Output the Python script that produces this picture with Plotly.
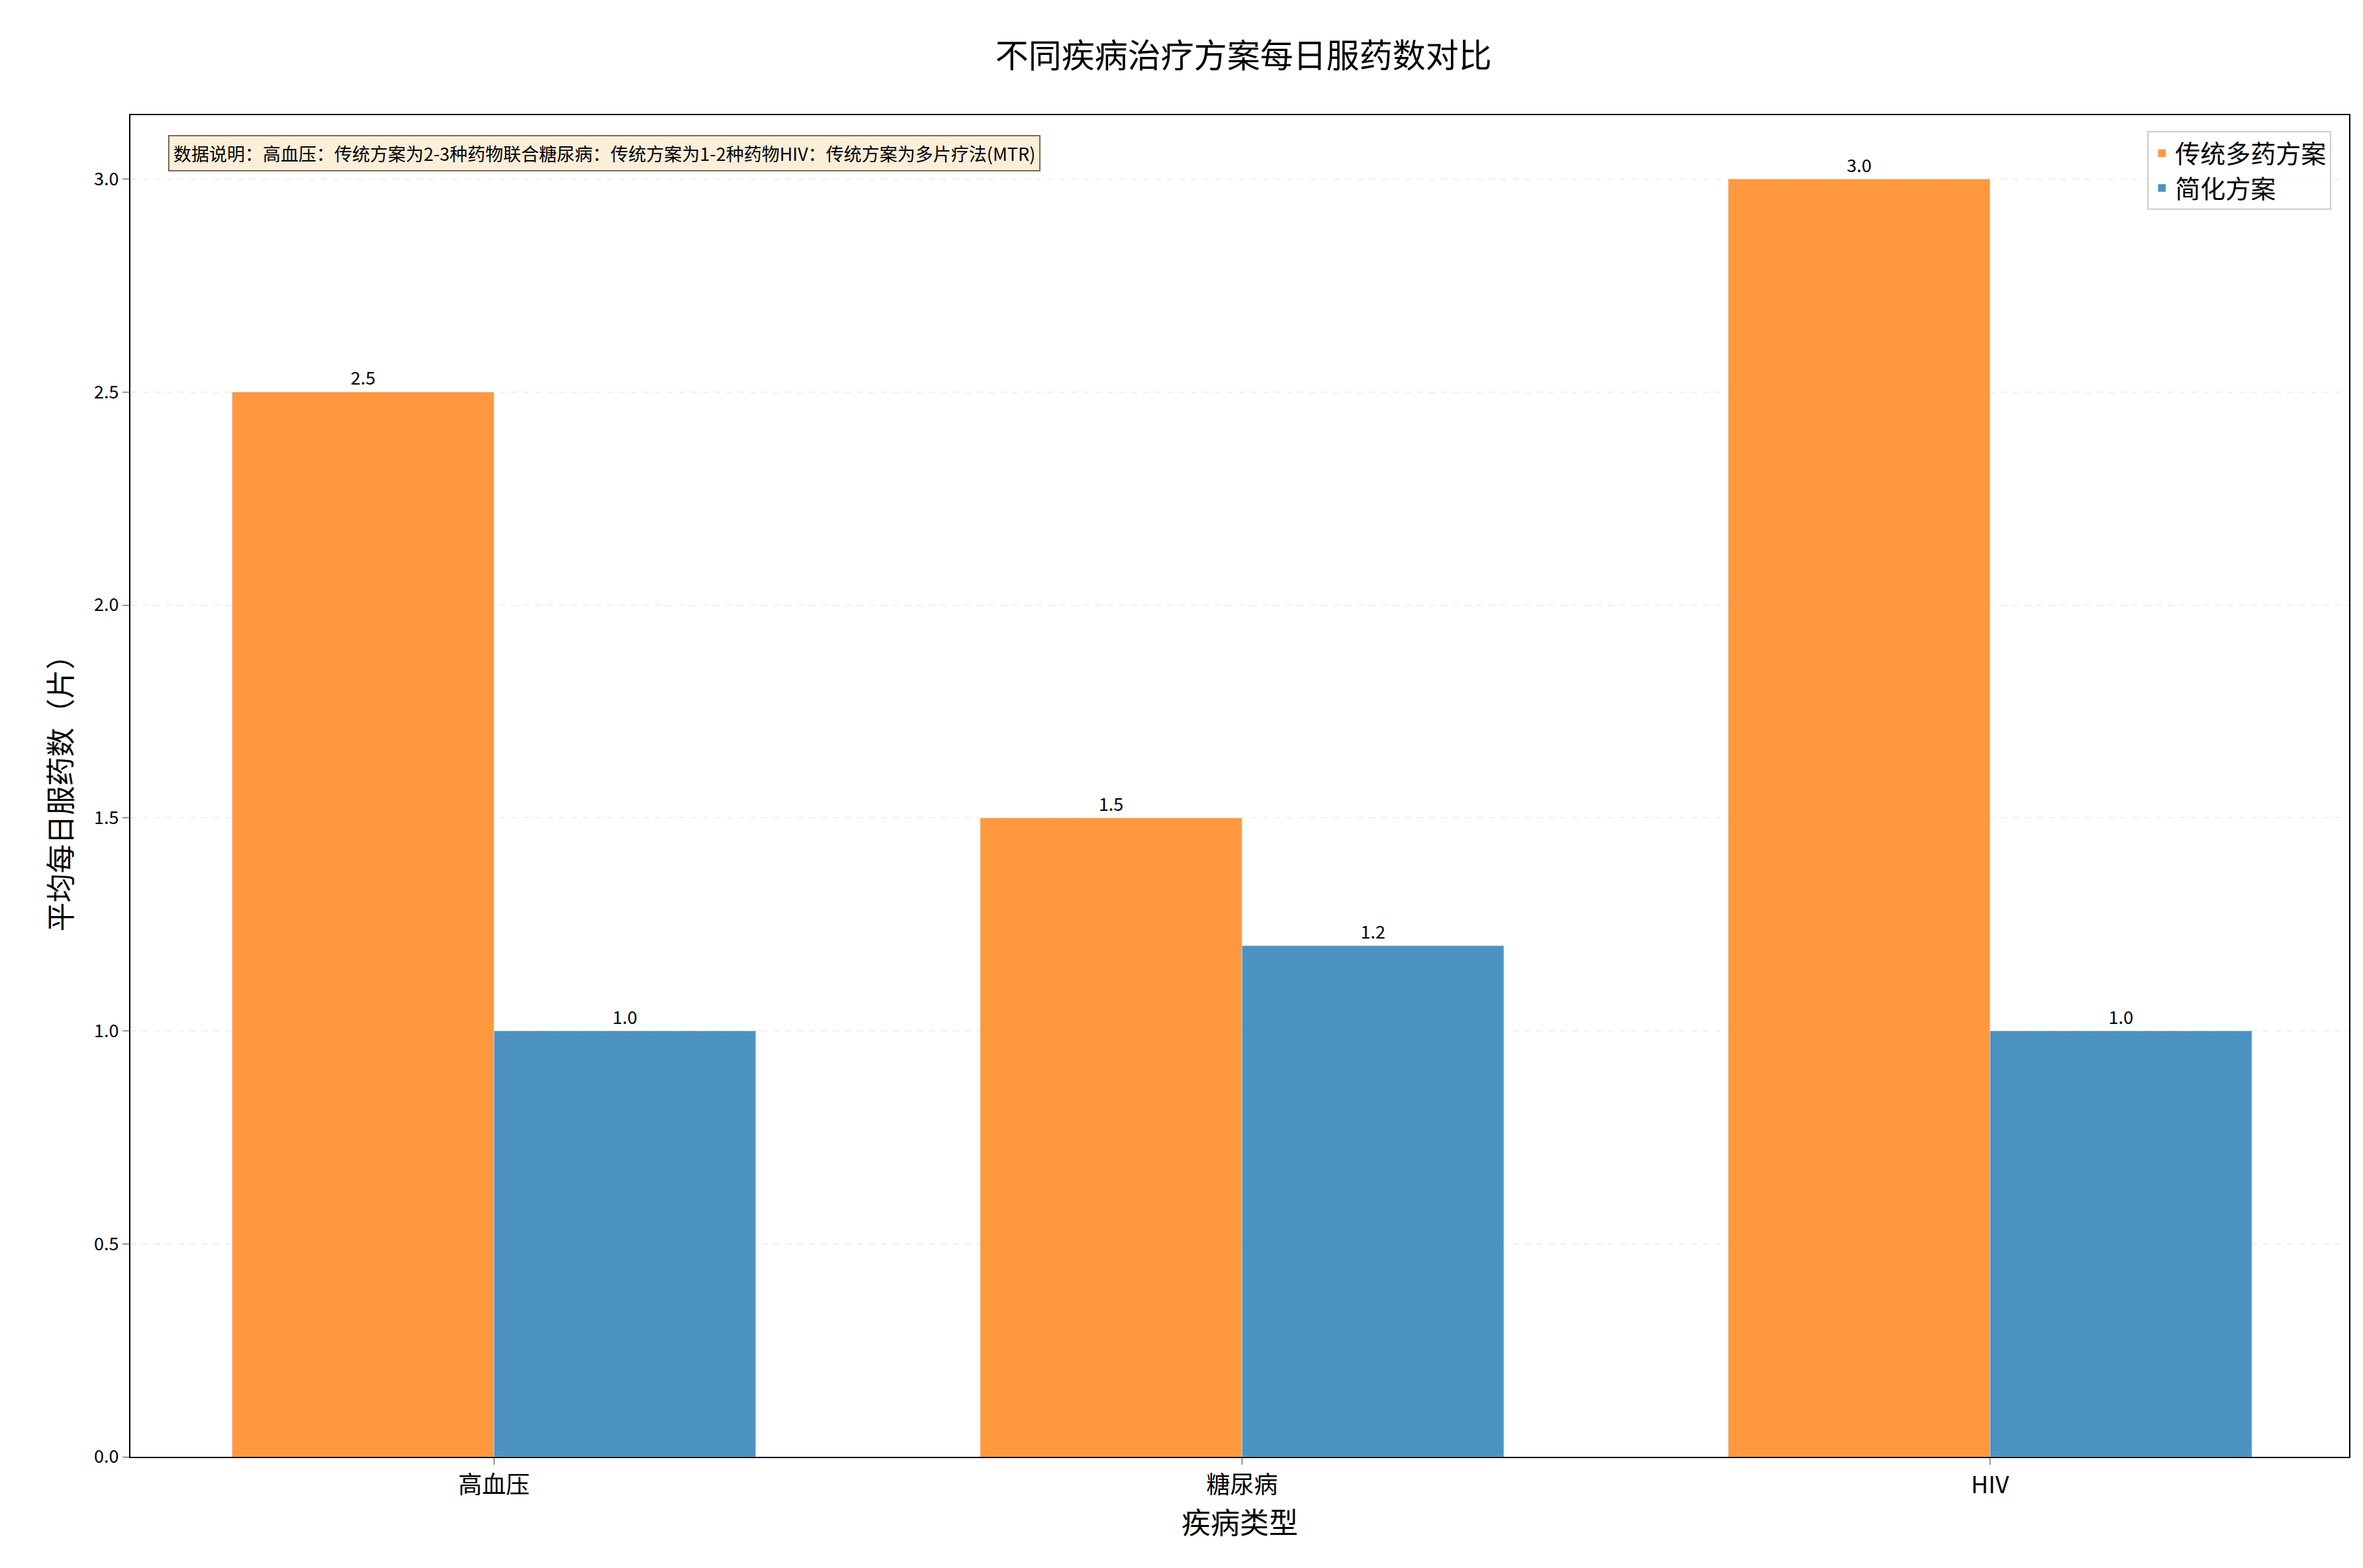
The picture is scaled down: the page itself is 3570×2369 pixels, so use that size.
import plotly.graph_objects as go

diseases = ["高血压", "糖尿病", "HIV"]
traditional = [2.5, 1.5, 3.0]
simplified = [1.0, 1.2, 1.0]
note = "数据说明：高血压：传统方案为2-3种药物联合糖尿病：传统方案为1-2种药物HIV：传统方案为多片疗法(MTR)"

font = "Noto Sans CJK SC"

fig = go.Figure()
fig.add_bar(x=diseases, y=traditional, name="传统多药方案", marker_color="#ff983e",
            text=[f"{v:.1f}" for v in traditional], textposition="outside",
            textfont=dict(size=27, color="black"), cliponaxis=False)
fig.add_bar(x=diseases, y=simplified, name="简化方案", marker_color="#4c92c3",
            text=[f"{v:.1f}" for v in simplified], textposition="outside",
            textfont=dict(size=27, color="black"), cliponaxis=False)

fig.update_layout(
    width=3570, height=2369,
    font=dict(family=font, color="black"),
    plot_bgcolor="white", paper_bgcolor="white",
    barmode="group", bargap=0.3, bargroupgap=0,
    margin=dict(l=189, r=29, t=166, b=176),
    title=dict(text="不同疾病治疗方案每日服药数对比", x=0.524, xanchor="center",
               y=0.975, yanchor="top", font=dict(size=50)),
    legend=dict(x=0.992, y=0.988, xanchor="right", yanchor="top",
                bgcolor="rgba(255,255,255,0.8)", bordercolor="#cccccc", borderwidth=2,
                font=dict(size=38)),
    annotations=[dict(text=note, xref="paper", yref="paper", x=0.017, y=0.985,
                      xanchor="left", yanchor="top", showarrow=False,
                      font=dict(size=27), bgcolor="#fbefd9", bordercolor="#7a6a55",
                      borderwidth=2, borderpad=6)],
)
fig.update_xaxes(range=[-0.486, 2.48], showline=True, linecolor="black", linewidth=2,
                 mirror=True, ticks="outside", ticklen=10, tickfont=dict(size=36),
                 title=dict(text="疾病类型", font=dict(size=44), standoff=10))
fig.update_yaxes(range=[0, 3.15], dtick=0.5, tickformat=".1f", showline=True,
                 linecolor="black", linewidth=2, mirror=True, ticks="outside", ticklen=10,
                 tickfont=dict(size=27), showgrid=True, gridcolor="#e3e3e3", griddash="dash",
                 zeroline=False,
                 title=dict(text="平均每日服药数（片）", font=dict(size=44), standoff=20))

fig.write_html("out.html")
